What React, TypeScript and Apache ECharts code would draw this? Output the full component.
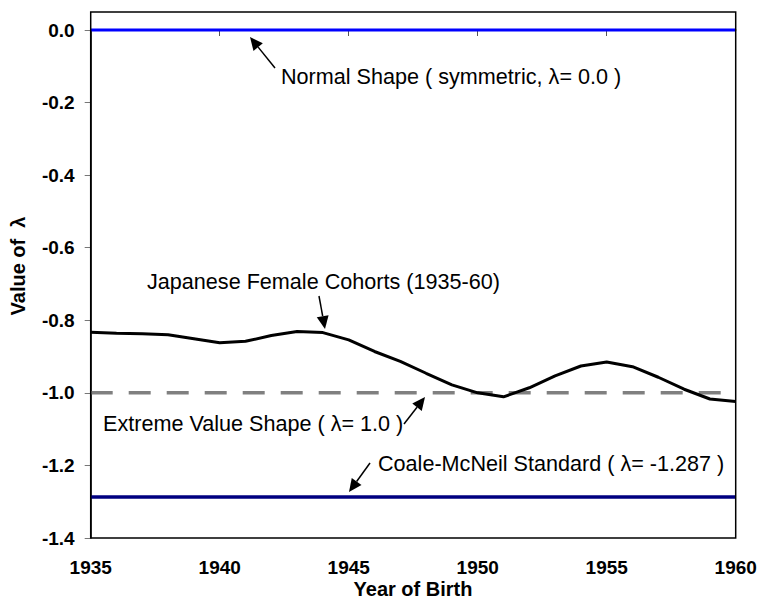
import React, { useEffect, useRef } from "react";
import * as echarts from "echarts";

const years = [1935,1936,1937,1938,1939,1940,1941,1942,1943,1944,1945,1946,1947,1948,1949,1950,1951,1952,1953,1954,1955,1956,1957,1958,1959,1960];
const japaneseFemale = [-0.833,-0.836,-0.837,-0.840,-0.851,-0.862,-0.858,-0.842,-0.831,-0.834,-0.854,-0.886,-0.913,-0.946,-0.978,-1.000,-1.011,-0.986,-0.953,-0.926,-0.915,-0.928,-0.957,-0.990,-1.017,-1.024];
const lineRange = [1935, 1960];
const normalValue = [0.0, 0.0];
const extremeValue = [-1.0, -1.0];
const coaleValue = [-1.287, -1.287];
const xTicks = [1935, 1940, 1945, 1950, 1955, 1960];
const yTicks = [0.0, -0.2, -0.4, -0.6, -0.8, -1.0, -1.2, -1.4];

const FONT = "'Liberation Sans', Arial, sans-serif";

function arrow(x1: number, y1: number, x2: number, y2: number) {
  const dx = x2 - x1, dy = y2 - y1;
  const len = Math.sqrt(dx * dx + dy * dy);
  const ux = dx / len, uy = dy / len;
  const hl = 13, hw = 6;
  const bx = x2 - ux * hl, by = y2 - uy * hl;
  return [
    { type: "line", shape: { x1, y1, x2: bx, y2: by }, style: { stroke: "#000", lineWidth: 1.5 }, z: 10 },
    {
      type: "polygon",
      shape: { points: [[x2, y2], [bx - uy * hw, by + ux * hw], [bx + uy * hw, by - ux * hw]] },
      style: { fill: "#000" },
      z: 10,
    },
  ];
}

function label(text: string, x: number, y: number) {
  return {
    type: "text",
    x, y,
    style: { text, font: `21.6px ${FONT}`, fill: "#000", textAlign: "left", textVerticalAlign: "middle" },
    z: 10,
  };
}

export default function App() {
  const ref = useRef<HTMLDivElement>(null);
  useEffect(() => {
    document.body.style.margin = "0";
    const chart = echarts.init(ref.current!, null, { renderer: "svg" });
    const pair = (vals: number[]) => lineRange.map((x, i) => [x, vals[i]]);
    chart.setOption({
      animation: false,
      backgroundColor: "#fff",
      grid: { left: 90.7, right: 24.3, top: 30, bottom: 65, containLabel: false },
      xAxis: {
        type: "value",
        min: 1935,
        max: 1960,
        interval: 5,
        axisLine: { show: true, lineStyle: { color: "#000", width: 1.5 } },
        axisTick: { show: true, length: 6, lineStyle: { color: "#555", width: 1 } },
        axisLabel: {
          margin: 20,
          color: "#000",
          fontSize: 19,
          fontWeight: "bold",
          fontFamily: FONT,
          formatter: (v: number) => (xTicks.includes(v) ? String(v) : ""),
        },
        splitLine: { show: false },
      },
      yAxis: {
        type: "value",
        min: -1.4,
        max: 0,
        interval: 0.2,
        axisLine: { show: true, lineStyle: { color: "#000", width: 1.5 } },
        axisTick: { show: true, length: 6, lineStyle: { color: "#777", width: 1 } },
        axisLabel: {
          margin: 16,
          color: "#000",
          fontSize: 19,
          fontWeight: "bold",
          fontFamily: FONT,
          formatter: (v: number) => {
            const t = yTicks.find((k) => Math.abs(k - v) < 1e-6);
            return t === undefined ? "" : t.toFixed(1);
          },
        },
        splitLine: { show: false },
      },
      series: [
        {
          name: "Extreme Value Shape",
          type: "line",
          data: pair(extremeValue),
          symbol: "none",
          lineStyle: { color: "#808080", width: 3.5, type: [22, 16] },
          z: 2,
        },
        {
          name: "Normal Shape",
          type: "line",
          data: pair(normalValue),
          symbol: "none",
          clip: false,
          lineStyle: { color: "#0000ff", width: 3 },
          z: 3,
        },
        {
          name: "Coale-McNeil Standard",
          type: "line",
          data: pair(coaleValue),
          symbol: "none",
          lineStyle: { color: "#000080", width: 3.5 },
          z: 3,
        },
        {
          name: "Japanese Female Cohorts",
          type: "line",
          data: years.map((y, i) => [y, japaneseFemale[i]]),
          symbol: "none",
          lineStyle: { color: "#000", width: 3 },
          z: 4,
        },
      ],
      graphic: [
        {
          type: "rect",
          shape: { x: 90.7, y: 12, width: 645, height: 526 },
          style: { fill: "none", stroke: "#000", lineWidth: 1.5 },
          z: 5,
        },
        label("Normal Shape ( symmetric, \u03bb= 0.0 )", 281, 76),
        label("Japanese Female Cohorts (1935-60)", 147, 281),
        label("Extreme Value Shape ( \u03bb= 1.0 )", 103, 423),
        label("Coale-McNeil Standard ( \u03bb= -1.287 )", 378, 463),
        ...arrow(275, 68, 250, 37),
        ...arrow(319, 296, 325, 329),
        ...arrow(404, 424, 425, 397),
        ...arrow(370, 463, 349, 492),
        {
          type: "text",
          x: 413,
          y: 589,
          style: { text: "Year of Birth", font: `bold 20px ${FONT}`, fill: "#000", textAlign: "center", textVerticalAlign: "middle" },
        },
        {
          type: "text",
          x: 18,
          y: 266,
          rotation: Math.PI / 2,
          style: { text: "Value of  \u03bb", font: `bold 20px ${FONT}`, fill: "#000", textAlign: "center", textVerticalAlign: "middle" },
        },
      ],
    });
    return () => chart.dispose();
  }, []);
  return <div ref={ref} style={{ width: 760, height: 603, position: "absolute", left: 0, top: 0 }} />;
}
